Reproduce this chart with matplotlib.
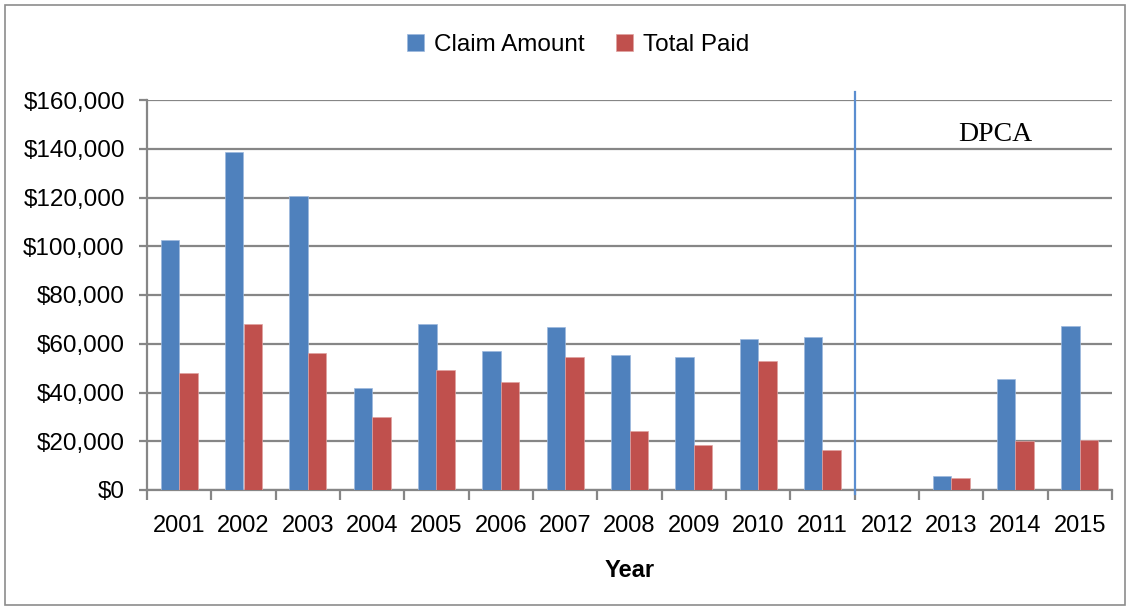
import matplotlib
matplotlib.use("Agg")
import matplotlib.pyplot as plt
import matplotlib.transforms as mtransforms
from matplotlib.patches import Rectangle
import numpy as np

years = ["2001", "2002", "2003", "2004", "2005", "2006", "2007", "2008",
         "2009", "2010", "2011", "2012", "2013", "2014", "2015"]
claim_amount = [102500, 138600, 120700, 41900, 68200, 57100, 67000, 55300,
                54700, 62100, 62600, 0, 5600, 45700, 67400]
total_paid = [48100, 68200, 56100, 30000, 49300, 44500, 54700, 24200,
              18600, 53000, 16600, 0, 4900, 19900, 20500]
yticks = [0, 20000, 40000, 60000, 80000, 100000, 120000, 140000, 160000]
ytick_labels = ["$0", "$20,000", "$40,000", "$60,000", "$80,000",
                "$100,000", "$120,000", "$140,000", "$160,000"]

BLUE = "#4F81BD"
RED = "#C0504D"
GRID = "#868686"

plt.rcParams['font.family'] = ['Liberation Sans', 'DejaVu Sans']

fig = plt.figure(figsize=(11.31, 6.10), dpi=100)
ax = fig.add_axes([147/1131, 1-490/610, (1112-147)/1131, 390/610])

x = np.arange(len(years))
w = 0.29
ax.bar(x - w/2, claim_amount, w, color=BLUE, edgecolor="#9DB9DD", linewidth=0.5,
       label="Claim Amount", zorder=3)
ax.bar(x + w/2, total_paid, w, color=RED, edgecolor="#E0A2A0", linewidth=0.5,
       label="Total Paid", zorder=3)

ax.set_xlim(-0.5, len(years) - 0.5)
ax.set_ylim(0, 160000)
ax.set_yticks(yticks)
ax.set_yticklabels(ytick_labels, fontsize=17.5)
ax.yaxis.grid(True, color=GRID, linewidth=1.6, zorder=0)
ax.set_axisbelow(True)

ax.set_xticks(x)
ax.set_xticklabels(years, fontsize=17)
ax.set_xticks(np.arange(len(years) + 1) - 0.5, minor=True)
ax.tick_params(axis='x', which='major', length=0, pad=18)
ax.tick_params(axis='x', which='minor', length=7, width=1.6, color=GRID, direction='out')
ax.tick_params(axis='y', length=6, width=1.6, color=GRID, direction='out', pad=10)

for s in ["top", "right"]:
    ax.spines[s].set_visible(False)
for s in ["left", "bottom"]:
    ax.spines[s].set_color(GRID)
    ax.spines[s].set_linewidth(1.6)

ax.set_xlabel("Year", fontsize=17, fontweight="bold", labelpad=16)

# divider line between 2011 and 2012
trans = mtransforms.blended_transform_factory(ax.transData, ax.transAxes)
ax.plot([10.5, 10.5], [-0.01, 1.02], color="#5B8ED0", linewidth=1.6,
        transform=trans, clip_on=False, zorder=4)
ax.text(12.68, 146000, "DPCA", fontsize=20, family=["Liberation Serif"],
        ha="center", va="center")

leg = fig.legend(loc="center", bbox_to_anchor=(578/1131, 1-45/610), ncol=2,
                 frameon=False, fontsize=17.5, handlelength=0.7, handleheight=0.7,
                 columnspacing=1.3, handletextpad=0.4)

fig.patches.append(Rectangle((5/1131, 5/610), 1120/1131, 600/610, fill=False,
                             edgecolor="#8C8C8C", linewidth=1.2,
                             transform=fig.transFigure))

fig.savefig("out.png", dpi=100)
